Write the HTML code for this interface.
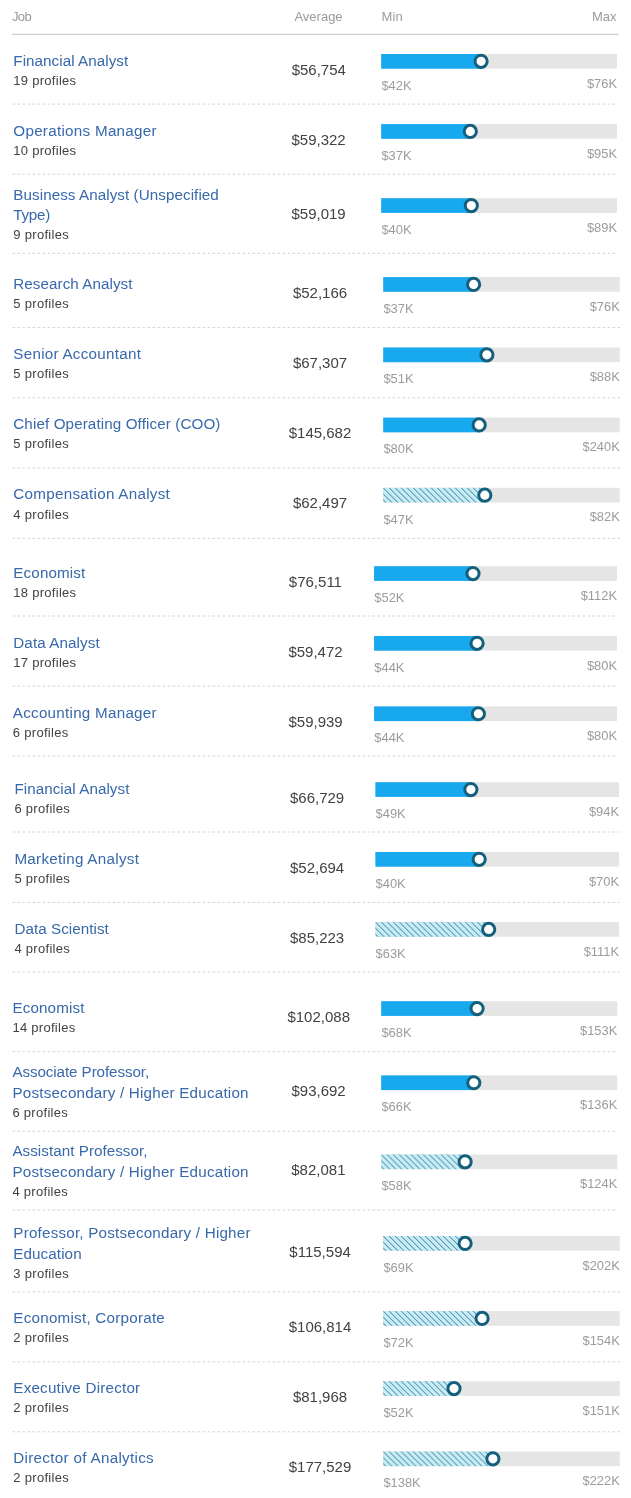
<!DOCTYPE html>
<html><head><meta charset="utf-8"><title>Salary by Job</title><style>
html,body{margin:0;padding:0;background:#fff;}
svg{display:block;font-family:"Liberation Sans","DejaVu Sans",sans-serif;}
.hd{font-size:13px;fill:#9b9b9b;}
.t{font-size:15.2px;fill:#3869ab;}
.p{font-size:13px;fill:#424242;}
.av{font-size:15px;fill:#424242;text-anchor:middle;}
.l{font-size:12.9px;fill:#9c9c9c;}
.le{text-anchor:end;}
.tr{fill:#e5e5e5;}
.fl{fill:#17a8ee;}
.k{fill:#fff;stroke:#14607c;stroke-width:3;}
.d{stroke:#d3d3d3;stroke-width:1;stroke-dasharray:2.6 2.4;fill:none;}
.hl{stroke:#cdcdcd;stroke-width:1.2;}
</style></head><body>
<svg width="631" height="1498" viewBox="0 0 631 1498">
<defs><pattern id="h" width="6" height="6" patternUnits="userSpaceOnUse"><rect width="6" height="6" fill="#f1fcfd"/><path d="M-1 -1L7 7M-1 5L1 7M5 -1L7 1" stroke="#268ca8" stroke-width="1.1"/><path d="M2 -1L7 4M-1 2L4 7" stroke="#8dd1f0" stroke-width="0.85"/></pattern></defs>
<rect width="631" height="1498" fill="#fff"/>
<text class="hd" x="12" y="21.1" textLength="19.7">Job</text>
<text class="hd" x="294.4" y="21.1" textLength="48.2">Average</text>
<text class="hd" x="381.4" y="21.1" textLength="21.3">Min</text>
<text class="hd" x="592" y="21.1" textLength="24.4">Max</text>
<line class="hl" x1="12" x2="618.5" y1="34.4" y2="34.4"/>
<g>
<text class="t" x="13.3" y="65.6" textLength="114.9">Financial Analyst</text>
<text class="p" x="13.3" y="84.7" textLength="62.8">19 profiles</text>
<text class="av" x="318.8" y="74.6">$56,754</text>
<rect class="tr" x="381.2" y="54" width="235.8" height="14.7"/>
<rect class="fl" x="381.2" y="54" width="99.9" height="14.7"/>
<circle class="k" cx="481.1" cy="61.35" r="6.1"/>
<text class="l" x="381.4" y="89.7">$42K</text>
<text class="l le" x="617" y="87.6">$76K</text>
<line class="d" x1="12.5" x2="617.4" y1="104.1" y2="104.1"/>
</g>
<g>
<text class="t" x="13.3" y="135.7" textLength="143.3">Operations Manager</text>
<text class="p" x="13.3" y="154.8" textLength="62.8">10 profiles</text>
<text class="av" x="318.6" y="144.7">$59,322</text>
<rect class="tr" x="381.2" y="124.1" width="235.8" height="14.7"/>
<rect class="fl" x="381.2" y="124.1" width="89.1" height="14.7"/>
<circle class="k" cx="470.3" cy="131.45" r="6.1"/>
<text class="l" x="381.4" y="159.8">$37K</text>
<text class="l le" x="617" y="157.7">$95K</text>
<line class="d" x1="12.5" x2="617.4" y1="174.2" y2="174.2"/>
</g>
<g>
<text class="t" x="13.3" y="199.5" textLength="205.5">Business Analyst (Unspecified</text>
<text class="t" x="13.3" y="220.2" textLength="37">Type)</text>
<text class="p" x="13.3" y="239.4" textLength="55.4">9 profiles</text>
<text class="av" x="318.6" y="218.8">$59,019</text>
<rect class="tr" x="381.2" y="198.2" width="235.8" height="14.7"/>
<rect class="fl" x="381.2" y="198.2" width="90.1" height="14.7"/>
<circle class="k" cx="471.3" cy="205.55" r="6.1"/>
<text class="l" x="381.4" y="233.9">$40K</text>
<text class="l le" x="617" y="231.8">$89K</text>
<line class="d" x1="12.5" x2="617.4" y1="253.3" y2="253.3"/>
</g>
<g>
<text class="t" x="13.3" y="288.7" textLength="119.2">Research Analyst</text>
<text class="p" x="13.3" y="307.8" textLength="55.4">5 profiles</text>
<text class="av" x="320" y="297.7">$52,166</text>
<rect class="tr" x="383.2" y="277.1" width="236.6" height="14.7"/>
<rect class="fl" x="383.2" y="277.1" width="90.4" height="14.7"/>
<circle class="k" cx="473.6" cy="284.45" r="6.1"/>
<text class="l" x="383.4" y="312.8">$37K</text>
<text class="l le" x="619.8" y="310.7">$76K</text>
<line class="d" x1="12.5" x2="620.2" y1="327.6" y2="327.6"/>
</g>
<g>
<text class="t" x="13.3" y="359.1" textLength="127.6">Senior Accountant</text>
<text class="p" x="13.3" y="378.2" textLength="55.4">5 profiles</text>
<text class="av" x="320" y="368.1">$67,307</text>
<rect class="tr" x="383.2" y="347.5" width="236.6" height="14.7"/>
<rect class="fl" x="383.2" y="347.5" width="103.7" height="14.7"/>
<circle class="k" cx="486.9" cy="354.85" r="6.1"/>
<text class="l" x="383.4" y="383.2">$51K</text>
<text class="l le" x="619.8" y="381.1">$88K</text>
<line class="d" x1="12.5" x2="620.2" y1="397.8" y2="397.8"/>
</g>
<g>
<text class="t" x="13.3" y="429.2" textLength="207.1">Chief Operating Officer (COO)</text>
<text class="p" x="13.3" y="448.3" textLength="55.4">5 profiles</text>
<text class="av" x="320" y="438.2">$145,682</text>
<rect class="tr" x="383.2" y="417.6" width="236.6" height="14.7"/>
<rect class="fl" x="383.2" y="417.6" width="96" height="14.7"/>
<circle class="k" cx="479.2" cy="424.95" r="6.1"/>
<text class="l" x="383.4" y="453.3">$80K</text>
<text class="l le" x="619.8" y="451.2">$240K</text>
<line class="d" x1="12.5" x2="620.2" y1="468" y2="468"/>
</g>
<g>
<text class="t" x="13.3" y="499.4" textLength="156.5">Compensation Analyst</text>
<text class="p" x="13.3" y="518.5" textLength="55.4">4 profiles</text>
<text class="av" x="320" y="508.4">$62,497</text>
<rect class="tr" x="383.2" y="487.8" width="236.6" height="14.7"/>
<g transform="translate(383.2 487.8)"><rect fill="url(#h)" width="101.6" height="14.7"/></g>
<circle class="k" cx="484.8" cy="495.15" r="6.1"/>
<text class="l" x="383.4" y="523.5">$47K</text>
<text class="l le" x="619.8" y="521.4">$82K</text>
<line class="d" x1="12.5" x2="620.2" y1="538.3" y2="538.3"/>
</g>
<g>
<text class="t" x="13.3" y="577.8" textLength="72">Economist</text>
<text class="p" x="13.3" y="596.9" textLength="62.8">18 profiles</text>
<text class="av" x="315.4" y="586.8">$76,511</text>
<rect class="tr" x="374.1" y="566.2" width="242.9" height="14.7"/>
<rect class="fl" x="374.1" y="566.2" width="98.9" height="14.7"/>
<circle class="k" cx="473" cy="573.55" r="6.1"/>
<text class="l" x="374.3" y="601.9">$52K</text>
<text class="l le" x="617" y="599.8">$112K</text>
<line class="d" x1="12.5" x2="617.4" y1="616" y2="616"/>
</g>
<g>
<text class="t" x="13.3" y="647.6" textLength="86.4">Data Analyst</text>
<text class="p" x="13.3" y="666.7" textLength="62.8">17 profiles</text>
<text class="av" x="315.5" y="656.6">$59,472</text>
<rect class="tr" x="374.1" y="636" width="242.9" height="14.7"/>
<rect class="fl" x="374.1" y="636" width="103" height="14.7"/>
<circle class="k" cx="477.1" cy="643.35" r="6.1"/>
<text class="l" x="374.3" y="671.7">$44K</text>
<text class="l le" x="617" y="669.6">$80K</text>
<line class="d" x1="12.5" x2="617.4" y1="686.1" y2="686.1"/>
</g>
<g>
<text class="t" x="12.8" y="718" textLength="143.8">Accounting Manager</text>
<text class="p" x="12.8" y="737.1" textLength="55.4">6 profiles</text>
<text class="av" x="315.6" y="727">$59,939</text>
<rect class="tr" x="374.1" y="706.4" width="242.9" height="14.7"/>
<rect class="fl" x="374.1" y="706.4" width="104.3" height="14.7"/>
<circle class="k" cx="478.4" cy="713.75" r="6.1"/>
<text class="l" x="374.3" y="742.1">$44K</text>
<text class="l le" x="617" y="740">$80K</text>
<line class="d" x1="12.5" x2="617.4" y1="755.9" y2="755.9"/>
</g>
<g>
<text class="t" x="14.4" y="793.8" textLength="115">Financial Analyst</text>
<text class="p" x="14.4" y="812.9" textLength="55.4">6 profiles</text>
<text class="av" x="317.1" y="802.8">$66,729</text>
<rect class="tr" x="375.4" y="782.2" width="243.6" height="14.7"/>
<rect class="fl" x="375.4" y="782.2" width="95.5" height="14.7"/>
<circle class="k" cx="470.9" cy="789.55" r="6.1"/>
<text class="l" x="375.6" y="817.9">$49K</text>
<text class="l le" x="619" y="815.8">$94K</text>
<line class="d" x1="12.5" x2="619.4" y1="832" y2="832"/>
</g>
<g>
<text class="t" x="14.4" y="863.6" textLength="124.5">Marketing Analyst</text>
<text class="p" x="14.4" y="882.7" textLength="55.4">5 profiles</text>
<text class="av" x="317.1" y="872.6">$52,694</text>
<rect class="tr" x="375.4" y="852" width="243.6" height="14.7"/>
<rect class="fl" x="375.4" y="852" width="103.8" height="14.7"/>
<circle class="k" cx="479.2" cy="859.35" r="6.1"/>
<text class="l" x="375.6" y="887.7">$40K</text>
<text class="l le" x="619" y="885.6">$70K</text>
<line class="d" x1="12.5" x2="619.4" y1="902.4" y2="902.4"/>
</g>
<g>
<text class="t" x="14.4" y="933.7" textLength="94.4">Data Scientist</text>
<text class="p" x="14.4" y="952.8" textLength="55.4">4 profiles</text>
<text class="av" x="317.1" y="942.7">$85,223</text>
<rect class="tr" x="375.4" y="922.1" width="243.6" height="14.7"/>
<g transform="translate(375.4 922.1)"><rect fill="url(#h)" width="113.3" height="14.7"/></g>
<circle class="k" cx="488.7" cy="929.45" r="6.1"/>
<text class="l" x="375.6" y="957.8">$63K</text>
<text class="l le" x="619" y="955.7">$111K</text>
<line class="d" x1="12.5" x2="619.4" y1="971.9" y2="971.9"/>
</g>
<g>
<text class="t" x="12.4" y="1012.8" textLength="72.1">Economist</text>
<text class="p" x="12.4" y="1031.9" textLength="62.8">14 profiles</text>
<text class="av" x="318.7" y="1021.8">$102,088</text>
<rect class="tr" x="381.2" y="1001.2" width="236.1" height="14.7"/>
<rect class="fl" x="381.2" y="1001.2" width="95.9" height="14.7"/>
<circle class="k" cx="477.1" cy="1008.55" r="6.1"/>
<text class="l" x="381.4" y="1036.9">$68K</text>
<text class="l le" x="617.3" y="1034.8">$153K</text>
<line class="d" x1="12.5" x2="617.7" y1="1051.65" y2="1051.65"/>
</g>
<g>
<text class="t" x="12.4" y="1077.2" textLength="136.8">Associate Professor,</text>
<text class="t" x="12.4" y="1097.9" textLength="236.1">Postsecondary / Higher Education</text>
<text class="p" x="12.4" y="1117.1" textLength="55.4">6 profiles</text>
<text class="av" x="318.6" y="1096">$93,692</text>
<rect class="tr" x="381.2" y="1075.4" width="236.1" height="14.7"/>
<rect class="fl" x="381.2" y="1075.4" width="92.6" height="14.7"/>
<circle class="k" cx="473.8" cy="1082.75" r="6.1"/>
<text class="l" x="381.4" y="1111.1">$66K</text>
<text class="l le" x="617.3" y="1109">$136K</text>
<line class="d" x1="12.5" x2="617.7" y1="1131.2" y2="1131.2"/>
</g>
<g>
<text class="t" x="12.4" y="1156.3" textLength="135.1">Assistant Professor,</text>
<text class="t" x="12.4" y="1177" textLength="236.1">Postsecondary / Higher Education</text>
<text class="p" x="12.4" y="1196.2" textLength="55.4">4 profiles</text>
<text class="av" x="318.4" y="1175.1">$82,081</text>
<rect class="tr" x="381.2" y="1154.5" width="236.1" height="14.7"/>
<g transform="translate(381.2 1154.5)"><rect fill="url(#h)" width="83.9" height="14.7"/></g>
<circle class="k" cx="465.1" cy="1161.85" r="6.1"/>
<text class="l" x="381.4" y="1190.2">$58K</text>
<text class="l le" x="617.3" y="1188.1">$124K</text>
<line class="d" x1="12.5" x2="617.7" y1="1210" y2="1210"/>
</g>
<g>
<text class="t" x="13.3" y="1237.85" textLength="237.2">Professor, Postsecondary / Higher</text>
<text class="t" x="13.3" y="1258.55" textLength="68.3">Education</text>
<text class="p" x="13.3" y="1277.75" textLength="55.4">3 profiles</text>
<text class="av" x="320.1" y="1256.65">$115,594</text>
<rect class="tr" x="383.2" y="1236.05" width="236.6" height="14.7"/>
<g transform="translate(383.2 1236.05)"><rect fill="url(#h)" width="81.9" height="14.7"/></g>
<circle class="k" cx="465.1" cy="1243.4" r="6.1"/>
<text class="l" x="383.4" y="1271.75">$69K</text>
<text class="l le" x="619.8" y="1269.65">$202K</text>
<line class="d" x1="12.5" x2="620.2" y1="1291.85" y2="1291.85"/>
</g>
<g>
<text class="t" x="13.3" y="1322.7" textLength="151.5">Economist, Corporate</text>
<text class="p" x="13.3" y="1341.8" textLength="55.4">2 profiles</text>
<text class="av" x="320" y="1331.7">$106,814</text>
<rect class="tr" x="383.2" y="1311.1" width="236.6" height="14.7"/>
<g transform="translate(383.2 1311.1)"><rect fill="url(#h)" width="98.9" height="14.7"/></g>
<circle class="k" cx="482.1" cy="1318.45" r="6.1"/>
<text class="l" x="383.4" y="1346.8">$72K</text>
<text class="l le" x="619.8" y="1344.7">$154K</text>
<line class="d" x1="12.5" x2="620.2" y1="1361.9" y2="1361.9"/>
</g>
<g>
<text class="t" x="13.3" y="1392.8" textLength="126.8">Executive Director</text>
<text class="p" x="13.3" y="1411.9" textLength="55.4">2 profiles</text>
<text class="av" x="320" y="1401.8">$81,968</text>
<rect class="tr" x="383.2" y="1381.2" width="236.6" height="14.7"/>
<g transform="translate(383.2 1381.2)"><rect fill="url(#h)" width="70.8" height="14.7"/></g>
<circle class="k" cx="454" cy="1388.55" r="6.1"/>
<text class="l" x="383.4" y="1416.9">$52K</text>
<text class="l le" x="619.8" y="1414.8">$151K</text>
<line class="d" x1="12.5" x2="620.2" y1="1431.8" y2="1431.8"/>
</g>
<g>
<text class="t" x="13.3" y="1463.1" textLength="140.4">Director of Analytics</text>
<text class="p" x="13.3" y="1482.2" textLength="55.4">2 profiles</text>
<text class="av" x="320" y="1472.1">$177,529</text>
<rect class="tr" x="383.2" y="1451.5" width="236.6" height="14.7"/>
<g transform="translate(383.2 1451.5)"><rect fill="url(#h)" width="109.7" height="14.7"/></g>
<circle class="k" cx="492.9" cy="1458.85" r="6.1"/>
<text class="l" x="383.4" y="1487.2">$138K</text>
<text class="l le" x="619.8" y="1485.1">$222K</text>
</g>
</svg>
</body></html>
